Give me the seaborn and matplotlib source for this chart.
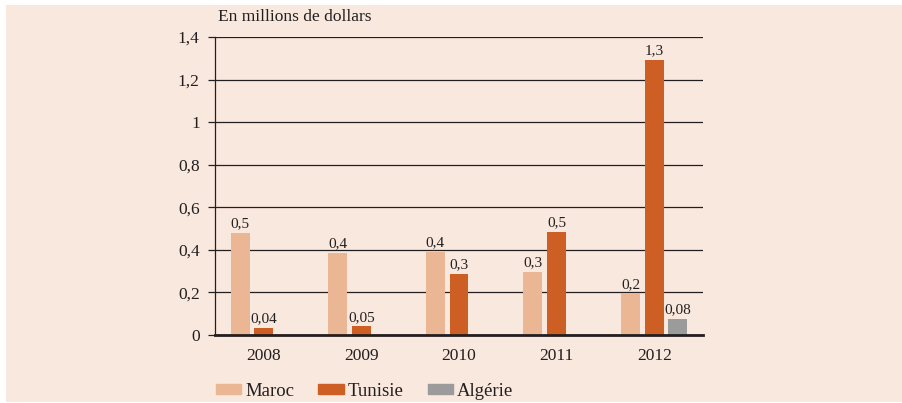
import matplotlib
matplotlib.use("Agg")
import matplotlib.pyplot as plt
import seaborn as sns
import pandas as pd

sns.set_style("white")
plt.rcParams['font.family'] = ['Liberation Serif', 'DejaVu Serif']

# data (millions of dollars)
years = ["2008", "2009", "2010", "2011", "2012"]
maroc = [0.48, 0.385, 0.39, 0.295, 0.195]
tunisie = [0.035, 0.04, 0.285, 0.485, 1.29]
algerie = [None, None, None, None, 0.075]
maroc_labels = ["0,5", "0,4", "0,4", "0,3", "0,2"]
tunisie_labels = ["0,04", "0,05", "0,3", "0,5", "1,3"]
algerie_labels = [None, None, None, None, "0,08"]
series = ["Maroc", "Tunisie", "Algérie"]
colors = ["#EAB694", "#CE5F24", "#9B9B9B"]
y_ticks = [0, 0.2, 0.4, 0.6, 0.8, 1.0, 1.2, 1.4]
y_tick_labels = ["0", "0,2", "0,4", "0,6", "0,8", "1", "1,2", "1,4"]

bg = "#F9E8DD"
ink = "#231F20"

rows = []
for name, vals in zip(series, [maroc, tunisie, algerie]):
    for yr, v in zip(years, vals):
        if v is not None:
            rows.append({"Année": yr, "Pays": name, "Valeur": v})
df = pd.DataFrame(rows)

fig = plt.figure(figsize=(9.02, 4.03), dpi=100)
fig.patch.set_facecolor("white")
# peach panel behind the chart
fig.patches.append(plt.Rectangle((6 / 902, 0.003), 1, 1 - 5 / 403 - 0.003,
                                 transform=fig.transFigure, facecolor=bg,
                                 edgecolor="none", zorder=-10))

ax = fig.add_axes([215 / 902, 1 - 335 / 403, 488 / 902, 298 / 403])
ax.set_facecolor(bg)

sns.barplot(data=df, x="Année", y="Valeur", hue="Pays", order=years,
            hue_order=series, palette=colors, width=0.73, gap=0.2,
            saturation=1, linewidth=0, ax=ax, zorder=3)

for cont, labs in zip(ax.containers, [maroc_labels, tunisie_labels, algerie_labels]):
    ax.bar_label(cont, labels=[l for l in labs if l], padding=2,
                 fontsize=11, color=ink)

ax.set_ylim(0, 1.4)
ax.set_yticks(y_ticks)
ax.set_yticklabels(y_tick_labels)
ax.yaxis.grid(True, color=ink, linewidth=0.9)
ax.set_axisbelow(True)
ax.set_xlabel("")
ax.set_ylabel("")

for s in ["top", "right"]:
    ax.spines[s].set_visible(False)
ax.spines["left"].set_color(ink)
ax.spines["left"].set_linewidth(0.9)
ax.spines["bottom"].set_color(ink)
ax.spines["bottom"].set_linewidth(2)
ax.spines["bottom"].set_zorder(5)

ax.tick_params(axis="y", length=5, width=0.9, color=ink, pad=6,
               labelsize=12.5, labelcolor=ink, left=True)
ax.tick_params(axis="x", length=0, pad=9, labelsize=12.5, labelcolor=ink)

ax.get_legend().remove()
handles = [plt.Rectangle((0, 0), 1, 1, color=c) for c in colors]
fig.legend(handles, series, loc="center left",
           bbox_to_anchor=(216 / 902, 1 - 391 / 403), ncol=3, frameon=False,
           fontsize=13.5, handlelength=1.35, handleheight=0.5,
           handletextpad=0.2, columnspacing=1.3, borderpad=0,
           borderaxespad=0, labelcolor=ink)

fig.text(218 / 902, 1 - 17 / 403, "En millions de dollars", fontsize=12.5,
         color=ink, va="center", ha="left")

fig.savefig("out.png", dpi=100, facecolor=fig.get_facecolor())
